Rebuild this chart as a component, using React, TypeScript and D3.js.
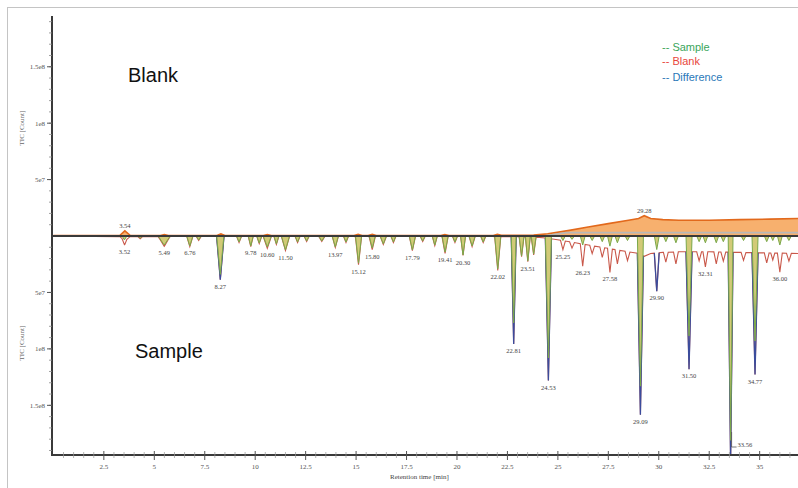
import React from "react";
import * as d3 from "d3";

// ---------- data ----------
const X_TICKS = [2.5, 5, 7.5, 10, 12.5, 15, 17.5, 20, 22.5, 25, 27.5, 30, 32.5, 35];
const X_TICK_LABELS = ["2.5", "5", "7.5", "10", "12.5", "15", "17.5", "20", "22.5", "25", "27.5", "30", "32.5", "35"];
const Y_TICKS = [5e7, 1e8, 1.5e8];
const Y_TICK_LABELS = ["5e7", "1e8", "1.5e8"];

// Blank chromatogram (upper panel), time [min] / TIC [count]
const blankTimes = [0, 2.0, 3.3, 3.54, 3.8, 5.3, 5.5, 5.7, 8.1, 8.3, 8.5, 10.4, 10.6, 10.8, 14.9, 15.1, 15.3, 15.6, 15.8, 16.0, 19.2, 19.4, 19.6, 21.8, 22.0, 22.2, 23.8, 24.5, 25.5, 26.5, 27.5, 28.5, 29.0, 29.28, 29.6, 30.2, 31.0, 32.5, 34.0, 35.5, 36.9];
const blankValues = [0.3e6, 0.5e6, 0.6e6, 4.5e6, 0.6e6, 0.5e6, 1.2e6, 0.5e6, 0.5e6, 1.8e6, 0.5e6, 0.5e6, 1.2e6, 0.5e6, 0.5e6, 1.5e6, 0.5e6, 0.5e6, 1.5e6, 0.5e6, 0.5e6, 1.2e6, 0.5e6, 0.5e6, 1.5e6, 0.6e6, 0.8e6, 2e6, 4.8e6, 8e6, 11e6, 14e6, 15.5e6, 18e6, 15.5e6, 14.5e6, 14e6, 14e6, 14.5e6, 15e6, 15.5e6];
const blankLabelTimes = [3.54, 29.28];
const blankLabelTexts = ["3.54", "29.28"];

// light grey trace in the upper panel
const greyTimes = [0, 24.3, 25.4, 36.9];
const greyValues = [0, 0, 3e6, 3e6];

// Peaks (lower panel): sample (green) heights, difference heights below the blank-offset trace
const peakTimes = [3.52, 4.3, 5.49, 6.76, 7.2, 8.27, 9.2, 9.78, 10.2, 10.6, 11.05, 11.5, 12.1, 12.55, 13.3, 13.97, 14.5, 15.12, 15.8, 16.35, 16.85, 17.79, 18.3, 18.9, 19.41, 19.9, 20.3, 20.75, 21.3, 22.02, 22.81, 23.2, 23.51, 23.8, 24.53, 25.25, 25.7, 26.23, 26.7, 27.2, 27.58, 27.95, 28.45, 29.09, 29.9, 30.35, 30.85, 31.5, 32.0, 32.31, 32.85, 33.2, 33.56, 34.2, 34.77, 35.35, 35.65, 36.0, 36.45];
const peakSample = [3.5e6, 1.8e6, 8e6, 8.8e6, 3.5e6, 3.4e7, 5.3e6, 8.8e6, 6.2e6, 9.7e6, 7e6, 1.24e7, 5.3e6, 4.4e6, 4.4e6, 9.7e6, 5.3e6, 2.4e7, 1.06e7, 7e6, 5.3e6, 1.24e7, 4.4e6, 8e6, 1.42e7, 5.3e6, 1.68e7, 8.8e6, 5.3e6, 2.9e7, 7.7e7, 1.77e7, 2.2e7, 1.6e7, 1.08e8, 4e6, 3e6, 8e6, 4e6, 5e6, 9e6, 6e6, 4e6, 1.33e8, 1.2e7, 5e6, 6e6, 8.85e7, 5e6, 6e6, 6e6, 5e6, 1.81e8, 4e6, 9.3e7, 5e6, 4e6, 8e6, 4e6];
const peakDiff = [3.5e6, 1.8e6, 8e6, 8.8e6, 3.5e6, 3.7e7, 5.3e6, 8.8e6, 6.2e6, 9.7e6, 7e6, 1.24e7, 5.3e6, 4.4e6, 4.4e6, 9.7e6, 5.3e6, 2.4e7, 1.06e7, 7e6, 5.3e6, 1.24e7, 4.4e6, 8e6, 1.42e7, 5.3e6, 1.68e7, 8.8e6, 5.3e6, 2.9e7, 9.5e7, 1.77e7, 2.2e7, 1.6e7, 1.26e8, 8e6, 5.3e6, 1.95e7, 7e6, 8.8e6, 2.1e7, 1.24e7, 8e6, 1.42e8, 3.4e7, 8.8e6, 1.06e7, 1.04e8, 8e6, 1.33e7, 1.06e7, 8e6, 1.86e8, 7e6, 1.08e8, 8.8e6, 6.2e6, 1.68e7, 7e6];
const peakWidths = [0.12, 0.12, 0.3, 0.15, 0.12, 0.18, 0.12, 0.12, 0.12, 0.2, 0.12, 0.2, 0.12, 0.12, 0.15, 0.15, 0.12, 0.15, 0.15, 0.15, 0.12, 0.15, 0.12, 0.12, 0.15, 0.12, 0.12, 0.15, 0.12, 0.15, 0.12, 0.12, 0.12, 0.12, 0.15, 0.12, 0.12, 0.12, 0.12, 0.12, 0.12, 0.12, 0.12, 0.15, 0.12, 0.12, 0.12, 0.15, 0.12, 0.12, 0.12, 0.12, 0.12, 0.12, 0.15, 0.12, 0.1, 0.12, 0.12];
const peakLabels = ["3.52", "", "5.49", "6.76", "", "8.27", "", "9.78", "", "10.60", "", "11.50", "", "", "", "13.97", "", "15.12", "15.80", "", "", "17.79", "", "", "19.41", "", "20.30", "", "", "22.02", "22.81", "", "23.51", "", "24.53", "25.25", "", "26.23", "", "", "27.58", "", "", "29.09", "29.90", "", "", "31.50", "", "32.31", "", "", "33.56", "", "34.77", "", "", "36.00", ""];

const LEGEND = ["-- Sample", "-- Blank", "-- Difference"];
const LEGEND_COLORS = ["#3aa55a", "#e8463c", "#2a78b8"];

// ---------- helpers ----------
function interp(ts: number[], vs: number[], t: number): number {
  if (t <= ts[0]) return vs[0];
  if (t >= ts[ts.length - 1]) return vs[vs.length - 1];
  const i = d3.bisectRight(ts, t);
  const t0 = ts[i - 1], t1 = ts[i];
  const v0 = vs[i - 1], v1 = vs[i];
  if (t1 === t0) return v1;
  return v0 + ((v1 - v0) * (t - t0)) / (t1 - t0);
}

function peakSeries(heights: number[]): [number, number][] {
  const pts: [number, number][] = [[-0.07, 0]];
  peakTimes.forEach((t, i) => {
    const w = peakWidths[i];
    pts.push([t - w, 0], [t, heights[i]], [t + w, 0]);
  });
  pts.push([36.9, 0]);
  return pts;
}

function withBlank(pts: [number, number][]): [number, number][] {
  const ts = pts.map((p) => p[0]);
  const vs = pts.map((p) => p[1]);
  const all = Array.from(new Set([...ts, ...blankTimes])).sort((a, b) => a - b);
  return all.map((t) => [t, interp(ts, vs, t) + interp(blankTimes, blankValues, t)]);
}

export default function App() {
  const W = 798, H = 488;
  const x = d3.scaleLinear().domain([-0.07, 36.9]).range([52, 798]);
  const yUp = d3.scaleLinear().domain([0, 1.95e8]).range([236, 16]);
  const yDn = d3.scaleLinear().domain([0, 1.94e8]).range([236, 455]);

  const blankAt = (t: number) => interp(blankTimes, blankValues, t);
  const blankPts: [number, number][] = blankTimes.map((t, i) => [t, blankValues[i]]);
  const greyPts: [number, number][] = greyTimes.map((t, i) => [t, greyValues[i]]);
  const samplePts = peakSeries(peakSample);
  const redPts = withBlank(peakSeries(peakDiff));

  const upArea = d3.area<[number, number]>().x((d) => x(d[0])).y0(yUp(0)).y1((d) => yUp(d[1]));
  const upLine = d3.line<[number, number]>().x((d) => x(d[0])).y((d) => yUp(d[1]));
  const dnArea = d3.area<[number, number]>().x((d) => x(d[0])).y0(yDn(0)).y1((d) => yDn(d[1]));
  const dnLine = d3.line<[number, number]>().x((d) => x(d[0])).y((d) => yDn(d[1]));

  const minorY = d3.range(1e7, 1.95e8, 1e7);
  const minorX = d3.range(0.5, 36.9, 0.5).filter((v) => !X_TICKS.includes(v));

  const serif = "'Liberation Serif', 'DejaVu Serif', serif";
  const sans = "'Liberation Sans', Arial, sans-serif";

  return (
    <svg width={W} height={H} style={{ position: "absolute", left: 0, top: 0, background: "#fff" }}>
      <defs>
        <clipPath id="plot">
          <rect x={52} y={16} width={746} height={439} />
        </clipPath>
      </defs>
      <rect x={0} y={0} width={W} height={H} fill="#fff" />
      <rect x={7.5} y={7.5} width={W + 10} height={H + 10} fill="none" stroke="#c4c4c4" strokeWidth={1} />

      <g clipPath="url(#plot)">
        {/* upper: blank */}
        <path d={upArea(blankPts) || ""} fill="#f6a75e" opacity={0.9} />
        <path d={upLine(blankPts) || ""} fill="none" stroke="#e2691c" strokeWidth={1.6} />
        <path d={upLine(greyPts) || ""} fill="none" stroke="#b8b8b8" strokeWidth={1.6} />

        {/* lower: blank-offset trace with difference peaks */}
        <path d={dnLine(redPts) || ""} fill="none" stroke="#c9584a" strokeWidth={1.1} />
        {peakTimes.map((t, i) => {
          if (peakDiff[i] - peakSample[i] < 2e6 || peakDiff[i] < 3e7) return null;
          const w = peakWidths[i];
          const pts: [number, number][] = [
            [t - w, blankAt(t - w)],
            [t, blankAt(t) + peakDiff[i]],
            [t + w, blankAt(t + w)],
          ];
          return <path key={"df" + i} d={dnLine(pts) || ""} fill="none" stroke="#3b4c9c" strokeWidth={1.3} />;
        })}
        {/* sample */}
        <path d={dnArea(samplePts) || ""} fill="#cdc468" opacity={0.9} />
        <path d={dnLine(samplePts) || ""} fill="none" stroke="#7aa84a" strokeWidth={1} />
      </g>

      {/* middle baseline */}
      <line x1={52} x2={798} y1={236} y2={236} stroke="#3a3a3a" strokeWidth={2} />

      {/* y axis */}
      <line x1={52} x2={52} y1={16} y2={456} stroke="#3a3a3a" strokeWidth={2} />
      {minorY.map((v, i) => (
        <g key={"my" + i}>
          <line x1={49} x2={52} y1={yUp(v)} y2={yUp(v)} stroke="#888" strokeWidth={0.8} />
          <line x1={49} x2={52} y1={yDn(v)} y2={yDn(v)} stroke="#888" strokeWidth={0.8} />
        </g>
      ))}
      {Y_TICKS.map((v, i) => (
        <g key={"y" + i}>
          <line x1={47} x2={52} y1={yUp(v)} y2={yUp(v)} stroke="#555" strokeWidth={1} />
          <text x={45} y={yUp(v) + 2.5} textAnchor="end" fontSize={7} fontFamily={serif} fill="#555">{Y_TICK_LABELS[i]}</text>
          <line x1={47} x2={52} y1={yDn(v)} y2={yDn(v)} stroke="#555" strokeWidth={1} />
          <text x={45} y={yDn(v) + 2.5} textAnchor="end" fontSize={7} fontFamily={serif} fill="#555">{Y_TICK_LABELS[i]}</text>
        </g>
      ))}
      <text transform="translate(24,128) rotate(-90)" textAnchor="middle" fontSize={7} fontFamily={serif} fill="#666">TIC [Count]</text>
      <text transform="translate(24,343) rotate(-90)" textAnchor="middle" fontSize={7} fontFamily={serif} fill="#666">TIC [Count]</text>

      {/* x axis */}
      <line x1={51} x2={798} y1={455} y2={455} stroke="#3a3a3a" strokeWidth={2} />
      {minorX.map((v, i) => (
        <line key={"mx" + i} x1={x(v)} x2={x(v)} y1={452} y2={458} stroke="#999" strokeWidth={0.7} />
      ))}
      {X_TICKS.map((v, i) => (
        <g key={"x" + i}>
          <line x1={x(v)} x2={x(v)} y1={451} y2={460} stroke="#555" strokeWidth={1} />
          <text x={x(v)} y={469} textAnchor="middle" fontSize={7} fontFamily={serif} fill="#555">{X_TICK_LABELS[i]}</text>
        </g>
      ))}
      <text x={390} y={479} fontSize={7} fontFamily={serif} fill="#444">Retention time [min]</text>

      {/* blank peak labels */}
      {blankLabelTimes.map((t, i) => (
        <text key={"bl" + i} x={x(t)} y={yUp(blankAt(t)) - 3} textAnchor="middle" fontSize={6.5} fontFamily={serif} fill="#444">
          {blankLabelTexts[i]}
        </text>
      ))}

      {/* sample peak labels */}
      {peakTimes.map((t, i) => {
        if (!peakLabels[i]) return null;
        const tip = Math.max(peakSample[i], peakDiff[i] + blankAt(t));
        const yTip = yDn(tip);
        if (yTip > 440) {
          return (
            <g key={"pl" + i}>
              <path d={`M${x(t) + 1},${432} V${447} H${x(t) + 6}`} fill="none" stroke="#555" strokeWidth={0.8} />
              <text x={x(t) + 7} y={447} fontSize={6.5} fontFamily={serif} fill="#444">{peakLabels[i]}</text>
            </g>
          );
        }
        return (
          <text key={"pl" + i} x={x(t)} y={yTip + 9} textAnchor="middle" fontSize={6.5} fontFamily={serif} fill="#444">
            {peakLabels[i]}
          </text>
        );
      })}

      {/* panel titles */}
      <text x={128} y={82} fontSize={20} fontFamily={sans} fill="#111">Blank</text>
      <text x={135} y={358} fontSize={20} fontFamily={sans} fill="#111">Sample</text>

      {/* legend */}
      {LEGEND.map((s, i) => (
        <text key={"lg" + i} x={662} y={51 + i * 14 + (i === 2 ? 2 : 0)} fontSize={11} fontFamily={sans} fill={LEGEND_COLORS[i]}>
          {s}
        </text>
      ))}
    </svg>
  );
}
